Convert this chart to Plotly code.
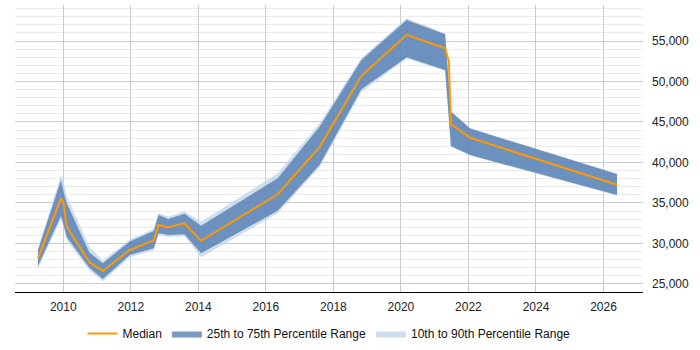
import plotly.graph_objects as go

# ---- data ----
band_years = [2009.25, 2009.93, 2010.0, 2010.1, 2010.77, 2011.17, 2011.97, 2012.68, 2012.82,
              2013.11, 2013.59, 2014.08, 2016.35, 2017.59, 2018.83, 2020.17, 2021.31, 2021.48,
              2022.05, 2026.4]
p10 = [26900, 33000, 32100, 30400, 26700, 25300, 28300, 29150, 31000, 30800, 30900, 28290,
       33720, 39400, 48700, 52800, 51300, 41950, 40850, 35920]
p25 = [27200, 33400, 32500, 30800, 27000, 25600, 28570, 29400, 31250, 31040, 31130, 28780,
       34040, 39690, 49030, 52990, 51420, 42030, 40920, 35980]
p75 = [29150, 37800, 36500, 35000, 28900, 27550, 30250, 31550, 33500, 33020, 33650, 32190,
       38040, 44420, 52650, 57590, 55830, 46270, 44180, 38570]
p90 = [29400, 38350, 37700, 35900, 29600, 27900, 30500, 31800, 33750, 33300, 33950, 32680,
       38660, 44840, 52900, 57800, 55950, 46350, 44250, 38620]

median_years = [2009.25, 2009.93, 2010.0, 2010.1, 2010.77, 2011.17, 2011.97, 2012.68, 2012.82,
                2013.11, 2013.59, 2014.08, 2016.35, 2017.59, 2018.83, 2020.17, 2021.31, 2021.42,
                2021.48, 2022.05, 2026.4]
median = [28150, 35570, 35150, 32100, 27700, 26600, 29190, 30380, 32280, 31990, 32490, 30320,
          36070, 41900, 50700, 55760, 54100, 52440, 44750, 43050, 37240]

x_ticks = [2010, 2012, 2014, 2016, 2018, 2020, 2022, 2024, 2026]
y_ticks = [25000, 30000, 35000, 40000, 45000, 50000, 55000]

LIGHT = "rgba(190,211,234,0.75)"
DARK = "rgba(70,115,170,0.72)"
ORANGE = "#FF9900"
FONT = "Liberation Sans, Arial, sans-serif"

fig = go.Figure()
fig.add_trace(go.Scatter(x=band_years, y=p10, mode="lines", line=dict(width=0),
                         showlegend=False, hoverinfo="skip"))
fig.add_trace(go.Scatter(x=band_years, y=p90, mode="lines", line=dict(width=0),
                         fill="tonexty", fillcolor=LIGHT,
                         name="10th to 90th Percentile Range", legendrank=3, hoverinfo="skip"))
fig.add_trace(go.Scatter(x=band_years, y=p25, mode="lines", line=dict(width=0),
                         showlegend=False, hoverinfo="skip"))
fig.add_trace(go.Scatter(x=band_years, y=p75, mode="lines", line=dict(width=0),
                         fill="tonexty", fillcolor=DARK,
                         name="25th to 75th Percentile Range", legendrank=2, hoverinfo="skip"))
fig.add_trace(go.Scatter(x=median_years, y=median, mode="lines",
                         line=dict(color=ORANGE, width=2),
                         name="Median", legendrank=1, hoverinfo="skip"))

fig.update_layout(
    width=700, height=350,
    margin=dict(l=15, r=57, t=5, b=58),
    plot_bgcolor="white", paper_bgcolor="white",
    font=dict(family=FONT, size=12, color="#222222"),
    legend=dict(orientation="h", x=0.5, xanchor="center", y=0.047, yanchor="middle",
                yref="container", font=dict(size=12, color="#111111"),
                itemwidth=30, traceorder="normal"),
    xaxis=dict(range=[2008.57, 2027.17], tickvals=x_ticks, ticktext=[str(v) for v in x_ticks],
               showgrid=True, gridcolor="#cccccc", gridwidth=1,
               showline=True, linecolor="#000000", linewidth=1,
               ticks="", zeroline=False, ticklabelstandoff=4,
               tickfont=dict(size=12, color="#222222")),
    yaxis=dict(range=[24000, 59450], side="right", tickvals=y_ticks,
               tickprefix="£", tickformat=",d",
               showgrid=True, gridcolor="#cccccc", gridwidth=1,
               minor=dict(dtick=1000, tick0=0, showgrid=True, gridcolor="#ebebeb", gridwidth=1),
               showline=False, zeroline=False, ticks="", ticklabelstandoff=8,
               tickfont=dict(size=12, color="#222222")),
)

fig.write_html("out.html")
